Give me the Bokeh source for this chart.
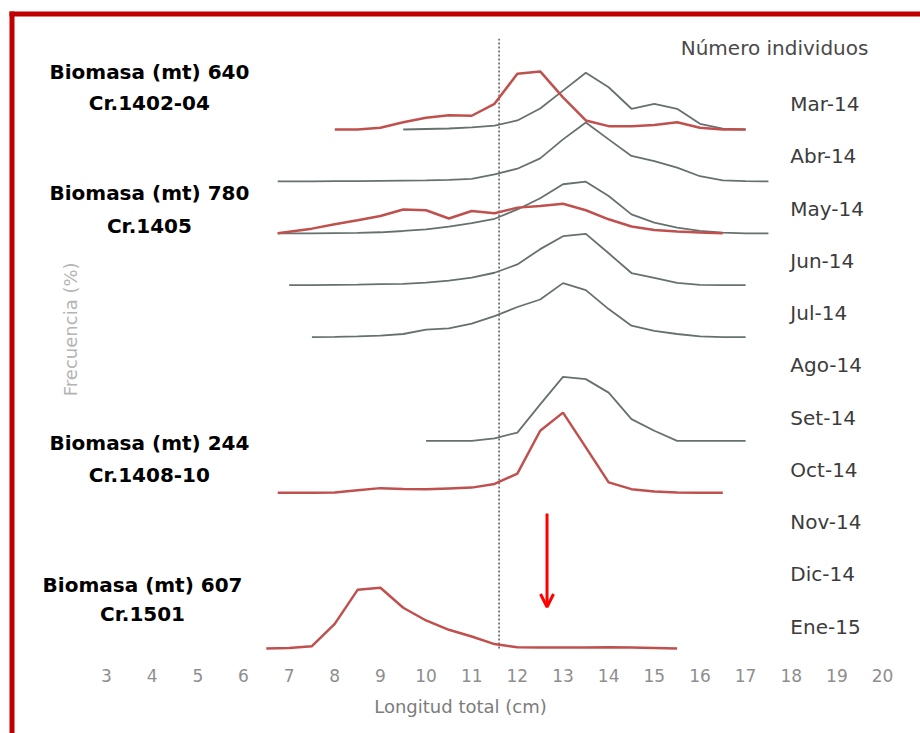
from bokeh.plotting import figure
from bokeh.models import Range1d, LinearAxis, FixedTicker, BoxAnnotation, Arrow, OpenHead
from bokeh.core.properties import value
from bokeh.embed import file_html
from bokeh.resources import INLINE

# ---------------- data (frequency in %, length in cm) ----------------
months = ["Mar-14", "Abr-14", "May-14", "Jun-14", "Jul-14", "Ago-14",
          "Set-14", "Oct-14", "Nov-14", "Dic-14", "Ene-15"]
month_rows = [10, 9, 8, 7, 6, 5, 4, 3, 2, 1, 0]

# gray series (commercial catch)
mar_gray_x = [9.5, 10.0, 10.5, 11.0, 11.5, 12.0, 12.5, 13.0, 13.5, 14.0, 14.5, 15.0, 15.5, 16.0, 16.5, 17.0]
mar_gray_f = [0.0, 0.2, 0.4, 0.8, 1.5, 3.5, 8.1, 15.0, 21.9, 16.3, 8.0, 9.9, 8.0, 2.2, 0.3, 0.0]

abr_gray_x = [6.75, 7.0, 7.5, 8.0, 8.5, 9.0, 9.5, 10.0, 10.5, 11.0, 11.5, 12.0, 12.5, 13.0, 13.5, 14.0,
              14.5, 15.0, 15.5, 16.0, 16.5, 17.0, 17.5]
abr_gray_f = [0.0, 0.0, 0.0, 0.1, 0.1, 0.2, 0.3, 0.4, 0.6, 1.0, 2.7, 4.9, 8.9, 16.2, 22.7, 16.2,
              9.8, 7.8, 5.3, 2.0, 0.4, 0.1, 0.0]

may_gray_x = [6.75, 7.0, 7.5, 8.0, 8.5, 9.0, 9.5, 10.0, 10.5, 11.0, 11.5, 12.0, 12.5, 13.0, 13.5, 14.0,
              14.5, 15.0, 15.5, 16.0, 16.5, 17.0, 17.5]
may_gray_f = [0.0, 0.0, 0.0, 0.1, 0.2, 0.4, 0.9, 1.5, 2.6, 3.9, 5.6, 9.2, 13.5, 18.9, 19.9, 14.4,
              7.3, 4.1, 2.2, 0.9, 0.3, 0.0, 0.0]

jun_gray_x = [7.0, 7.5, 8.0, 8.5, 9.0, 9.5, 10.0, 10.5, 11.0, 11.5, 12.0, 12.5, 13.0, 13.5, 14.0,
              14.5, 15.0, 15.5, 16.0, 16.5, 17.0]
jun_gray_f = [0.0, 0.0, 0.1, 0.2, 0.4, 0.5, 1.0, 1.8, 2.9, 4.8, 8.0, 13.9, 18.9, 19.8, 12.3,
              4.7, 2.8, 0.9, 0.1, 0.0, 0.0]

jul_gray_x = [7.5, 8.0, 8.5, 9.0, 9.5, 10.0, 10.5, 11.0, 11.5, 12.0, 12.5, 13.0, 13.5, 14.0,
              14.5, 15.0, 15.5, 16.0, 16.5, 17.0]
jul_gray_f = [0.0, 0.1, 0.3, 0.6, 1.2, 2.9, 3.4, 5.2, 8.1, 11.6, 14.5, 20.8, 18.1, 10.8,
              4.4, 2.4, 1.2, 0.3, 0.0, 0.0]

set_gray_x = [10.0, 10.5, 11.0, 11.5, 12.0, 12.5, 13.0, 13.5, 14.0, 14.5, 15.0, 15.5, 16.0, 16.5, 17.0]
set_gray_f = [0.0, 0.0, 0.0, 1.0, 3.2, 14.1, 24.7, 23.8, 18.6, 8.4, 3.9, 0.0, 0.0, 0.0, 0.0]

# red series (acoustic survey cruises)
mar_red_x = [8.0, 8.5, 9.0, 9.5, 10.0, 10.5, 11.0, 11.5, 12.0, 12.5, 13.0, 13.5, 14.0, 14.5,
             15.0, 15.5, 16.0, 16.5, 17.0]
mar_red_f = [0.0, 0.0, 0.7, 2.8, 4.5, 5.5, 5.3, 9.9, 21.5, 22.4, 12.4, 3.5, 1.3, 1.3,
             1.7, 2.8, 0.7, 0.0, 0.0]

may_red_x = [6.75, 7.0, 7.5, 8.0, 8.5, 9.0, 9.5, 10.0, 10.5, 11.0, 11.5, 12.0, 12.5, 13.0, 13.5,
             14.0, 14.5, 15.0, 15.5, 16.0, 16.5]
may_red_f = [0.0, 0.6, 1.8, 3.5, 5.0, 6.7, 9.2, 8.9, 5.7, 8.6, 7.7, 9.9, 10.5, 11.4, 8.9,
             5.4, 2.6, 1.3, 0.7, 0.3, 0.0]

oct_red_x = [6.75, 7.0, 7.5, 8.0, 8.5, 9.0, 9.5, 10.0, 10.5, 11.0, 11.5, 12.0, 12.5, 13.0, 13.5,
             14.0, 14.5, 15.0, 15.5, 16.0, 16.5]
oct_red_f = [0.0, 0.0, 0.0, 0.1, 1.0, 1.8, 1.5, 1.4, 1.7, 2.0, 3.4, 7.4, 23.9, 30.9, 17.5,
             4.0, 1.4, 0.5, 0.1, 0.0, 0.0]

ene_red_x = [6.5, 7.0, 7.5, 8.0, 8.5, 9.0, 9.5, 10.0, 10.5, 11.0, 11.5, 12.0, 12.5, 13.0, 13.5,
             14.0, 14.5, 15.0, 15.5]
ene_red_f = [0.0, 0.2, 0.9, 9.5, 22.6, 23.4, 15.7, 10.8, 7.2, 4.6, 1.7, 0.5, 0.4, 0.4, 0.4,
             0.5, 0.4, 0.2, 0.0]

gray_series = [("Mar-14", mar_gray_x, mar_gray_f), ("Abr-14", abr_gray_x, abr_gray_f),
               ("May-14", may_gray_x, may_gray_f), ("Jun-14", jun_gray_x, jun_gray_f),
               ("Jul-14", jul_gray_x, jul_gray_f), ("Set-14", set_gray_x, set_gray_f)]
red_series = [("Mar-14", mar_red_x, mar_red_f), ("May-14", may_red_x, may_red_f),
              ("Oct-14", oct_red_x, oct_red_f), ("Ene-15", ene_red_x, ene_red_f)]

biomass_lines = ["Biomasa (mt) 640", "Cr.1402-04",
                 "Biomasa (mt) 780", "Cr.1405",
                 "Biomasa (mt) 244", "Cr.1408-10",
                 "Biomasa (mt) 607", "Cr.1501"]
x_ticks = [3, 4, 5, 6, 7, 8, 9, 10, 11, 12, 13, 14, 15, 16, 17, 18, 19, 20]
cutoff_length = 11.6     # talla minima (cm), dotted line
arrow_length = 12.65

# ---------------- layout / style ----------------
PCT_PER_ROW = 20.0
row_of = dict(zip(months, month_rows))
W, H = 920, 733

p = figure(width=W, height=H, output_backend="svg", toolbar_location=None,
           x_axis_type=None, y_axis_type=None,
           x_range=Range1d(0.678, 20.831), y_range=Range1d(-1.638, 12.486),
           min_border=0, min_border_left=0, min_border_right=0,
           min_border_top=0, min_border_bottom=0)
p.outline_line_color = None
p.background_fill_color = "white"
p.border_fill_color = "white"

GRAY = "#66716f"
RED = "#c0504d"

# dotted line
p.segment(x0=[cutoff_length], y0=[0], x1=[cutoff_length], y1=[11.75],
          line_color="#555555", line_width=1.5, line_dash="2 2")

for name, xs, fs in gray_series:
    base = row_of[name]
    p.line(xs, [base + f / PCT_PER_ROW for f in fs], line_color=GRAY, line_width=1.8)

for name, xs, fs in red_series:
    base = row_of[name]
    p.line(xs, [base + f / PCT_PER_ROW for f in fs], line_color=RED, line_width=2.5)

# month labels
label_pos = [0.42 + r * 1.007 for r in month_rows]
p.text(x=[17.98] * len(months), y=label_pos, text=months,
       text_font=value("DejaVu Sans"), text_font_size="20px", text_color="#3c3c3c",
       text_align="left", text_baseline="middle")
p.text(x=[19.69], y=[11.58], text=["Número individuos"],
       text_font=value("DejaVu Sans"), text_font_size="20px", text_color="#4a4a4a",
       text_align="right", text_baseline="middle")

# biomass annotations
bx = [3.94, 3.94, 3.94, 3.94, 3.94, 3.94, 3.79, 3.79]
by = [11.10, 10.52, 8.77, 8.15, 3.95, 3.35, 1.23, 0.655]
p.text(x=bx, y=by, text=biomass_lines,
       text_font=value("DejaVu Sans"), text_font_style="bold", text_font_size="20px",
       text_color="black", text_align="center", text_baseline="middle")

# y label
p.text(x=[2.21], y=[6.15], text=["Frecuencia (%)"], angle=1.5708,
       text_font=value("DejaVu Sans"), text_font_size="18px", text_color="#b4b4b4",
       text_align="center", text_baseline="middle")

# arrow
p.add_layout(Arrow(x_start=arrow_length, y_start=2.60, x_end=arrow_length, y_end=0.80,
                   line_color="#ff0000", line_width=3,
                   end=OpenHead(size=13, line_color="#ff0000", line_width=3)))

# x axis
xaxis = LinearAxis(fixed_location=-0.17, ticker=FixedTicker(ticks=x_ticks),
                   axis_label="Longitud total (cm)")
xaxis.axis_line_color = None
xaxis.major_tick_line_color = None
xaxis.minor_tick_line_color = None
xaxis.major_label_standoff = 6
xaxis.major_label_text_font = "DejaVu Sans"
xaxis.major_label_text_font_size = "17px"
xaxis.major_label_text_color = "#8e8e8e"
xaxis.axis_label_text_font = "DejaVu Sans"
xaxis.axis_label_text_font_style = "normal"
xaxis.axis_label_text_font_size = "18px"
xaxis.axis_label_text_color = "#7c7c7c"
xaxis.axis_label_standoff = 10
p.add_layout(xaxis, "below")

# red frame (top and left); screen y is measured from the bottom edge
BORDER = "#c00000"
p.add_layout(BoxAnnotation(left=9, right=14, top=H - 11, bottom=0,
                           left_units="screen", right_units="screen",
                           top_units="screen", bottom_units="screen",
                           fill_color=BORDER, fill_alpha=1, line_color=None, level="overlay"))
p.add_layout(BoxAnnotation(left=9, right=W, top=H - 11, bottom=H - 16,
                           left_units="screen", right_units="screen",
                           top_units="screen", bottom_units="screen",
                           fill_color=BORDER, fill_alpha=1, line_color=None, level="overlay"))

open("out.html", "w").write(file_html(p, INLINE))
